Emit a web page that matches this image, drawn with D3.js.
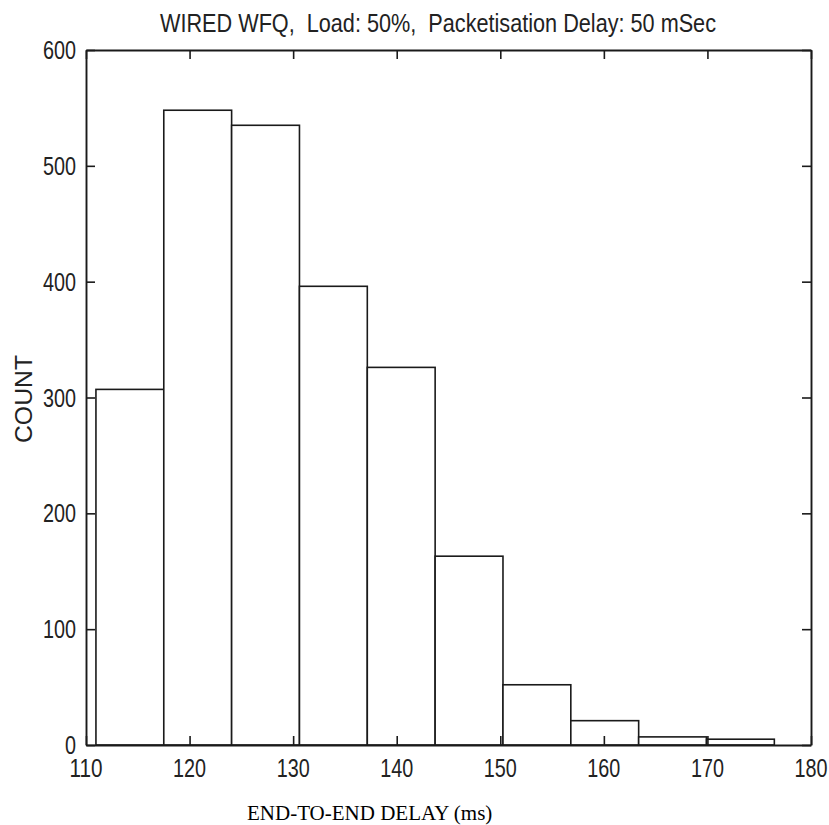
<!DOCTYPE html>
<html>
<head>
<meta charset="utf-8">
<script src="https://cdn.jsdelivr.net/npm/d3@7"></script>
<style>
  html, body { margin: 0; padding: 0; background: #fff; }
  svg { display: block; }
</style>
</head>
<body>
<svg id="chart" width="829" height="825"></svg>
<script>
// ---- data ----
const binEdges = [110.96, 117.51, 124.06, 130.61, 137.16, 143.71, 150.26, 156.81, 163.36, 169.91, 176.46];
const counts = [307, 548, 535, 396, 326, 163, 52, 21, 7, 5];
const xTicks = [110, 120, 130, 140, 150, 160, 170, 180];
const yTicks = [0, 100, 200, 300, 400, 500, 600];
const titleText = "WIRED WFQ,  Load: 50%,  Packetisation Delay: 50 mSec";
const xLabelText = "END-TO-END DELAY (ms)";
const yLabelText = "COUNT";

// ---- layout ----
const svg = d3.select("#chart");
const L = 86, R = 811, T = 50, B = 745;
const x = d3.scaleLinear().domain([110, 180]).range([L, R]);
const y = d3.scaleLinear().domain([0, 600]).range([B, T]);
const ink = "#1a1a1a";
const digitW = 11;

const bins = counts.map((c, i) => ({ x0: binEdges[i], x1: binEdges[i + 1], c }));

// bars
svg.append("g").selectAll("rect").data(bins).join("rect")
  .attr("x", d => x(d.x0))
  .attr("y", d => y(d.c))
  .attr("width", d => x(d.x1) - x(d.x0))
  .attr("height", d => y(0) - y(d.c))
  .attr("fill", "#fff")
  .attr("stroke", ink)
  .attr("stroke-width", 1.6);

// axes with inward ticks on all sides (box)
const tickLen = 9;
const axB = svg.append("g").attr("transform", `translate(0,${B})`)
  .call(d3.axisBottom(x).tickValues(xTicks).tickSizeInner(-tickLen).tickSizeOuter(0).tickFormat(""));
const axT = svg.append("g").attr("transform", `translate(0,${T})`)
  .call(d3.axisTop(x).tickValues(xTicks).tickSizeInner(-tickLen).tickSizeOuter(0).tickFormat(""));
const axL = svg.append("g").attr("transform", `translate(${L},0)`)
  .call(d3.axisLeft(y).tickValues(yTicks).tickSizeInner(-tickLen).tickSizeOuter(0).tickFormat(""));
const axR = svg.append("g").attr("transform", `translate(${R},0)`)
  .call(d3.axisRight(y).tickValues(yTicks).tickSizeInner(-tickLen).tickSizeOuter(0).tickFormat(""));
[axB, axT, axL, axR].forEach(g => {
  g.selectAll("path.domain").attr("stroke", ink).attr("stroke-width", 1.9);
  g.selectAll(".tick line").attr("stroke", ink).attr("stroke-width", 1.6);
});

// tick labels
const lblFont = "'Liberation Sans', Arial, sans-serif";
svg.append("g").selectAll("text").data(xTicks).join("text")
  .attr("x", d => x(d))
  .attr("y", B + 32)
  .attr("text-anchor", "middle")
  .attr("font-family", lblFont)
  .attr("font-size", 26)
  .attr("fill", "#222")
  .attr("textLength", d => String(d).length * digitW)
  .attr("lengthAdjust", "spacingAndGlyphs")
  .text(d => d);

svg.append("g").selectAll("text").data(yTicks).join("text")
  .attr("x", L - 10)
  .attr("y", d => y(d) + 9)
  .attr("text-anchor", "end")
  .attr("font-family", lblFont)
  .attr("font-size", 26)
  .attr("fill", "#222")
  .attr("textLength", d => String(d).length * digitW)
  .attr("lengthAdjust", "spacingAndGlyphs")
  .text(d => d);

// title
svg.append("text")
  .attr("x", 438)
  .attr("y", 32)
  .attr("text-anchor", "middle")
  .attr("font-family", lblFont)
  .attr("font-size", 25)
  .attr("fill", "#222")
  .style("white-space", "pre")
  .attr("textLength", 556)
  .attr("lengthAdjust", "spacingAndGlyphs")
  .text(titleText);

// y label
svg.append("text")
  .attr("transform", `translate(32,399) rotate(-90)`)
  .attr("text-anchor", "middle")
  .attr("font-family", lblFont)
  .attr("font-size", 24)
  .attr("fill", "#222")
  .attr("textLength", 88)
  .attr("lengthAdjust", "spacingAndGlyphs")
  .text(yLabelText);

// x label (serif)
svg.append("text")
  .attr("x", 247)
  .attr("y", 820)
  .attr("font-family", "'Liberation Serif', 'Times New Roman', serif")
  .attr("font-size", 21)
  .attr("fill", "#000")
  .text(xLabelText);
</script>
</body>
</html>
